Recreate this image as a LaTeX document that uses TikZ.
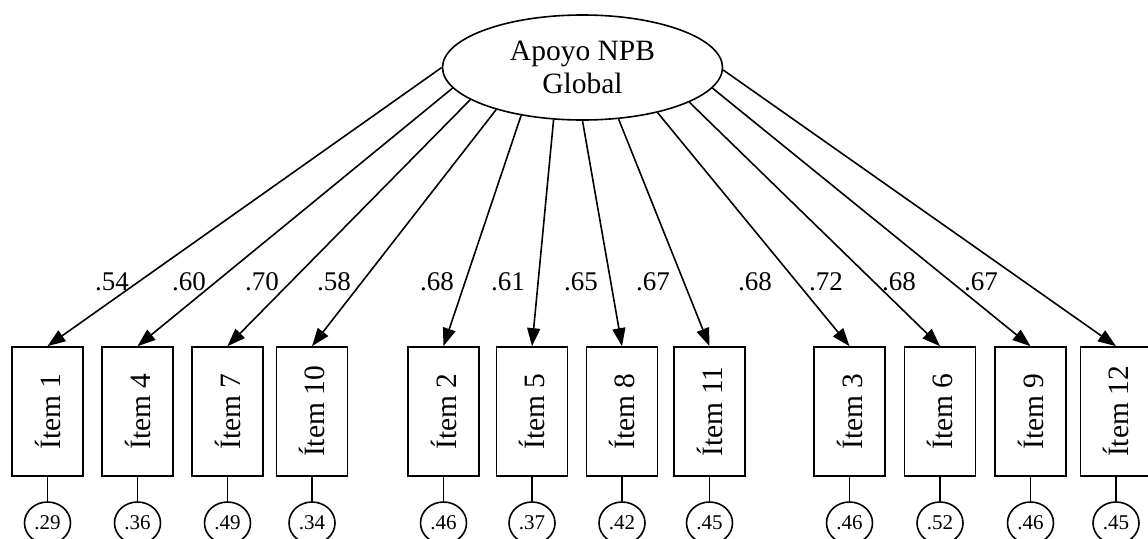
\documentclass[tikz,border=0pt]{standalone}
\usepackage{fontspec}
\setmainfont{Liberation Serif}
\usetikzlibrary{arrows.meta,shapes.geometric}

\begin{document}
\begin{tikzpicture}[x=1pt,y=-1pt,
  latent/.style={ellipse,draw,line width=1.6pt,minimum width=280pt,minimum height=105pt,
    inner sep=0pt,align=center,font=\fontsize{29.5}{33}\selectfont},
  item/.style={draw,line width=1.7pt,minimum width=71pt,minimum height=129pt,inner sep=0pt,
    font=\fontsize{29.5}{33}\selectfont},
  err/.style={ellipse,draw,line width=1.6pt,minimum width=46pt,minimum height=42pt,inner sep=0pt,
    font=\fontsize{21}{24}\selectfont},
  load/.style={inner sep=0pt,font=\fontsize{27}{30}\selectfont},
  loading/.style={line width=1.6pt,-{Triangle[length=18pt,width=13pt]}},
  errline/.style={line width=1.6pt}]
\useasboundingbox (0,0) rectangle (1148,538);
\clip (0,0) rectangle (1148,538);

% latent factor
\node[latent] (lat) at (582.5,67.5) {Apoyo NPB\\Global};

% indicators: name / x / start angle on the factor / label x / loading / error variance
\foreach \n/\x/\a/\lx/\ld/\er in {
   1/47.5/180/112/.54/.29,
   4/137.5/189/189/.60/.36,
   7/227.5/196/262/.70/.49,
  10/312/206/334/.58/.34,
   2/443.5/218/437/.68/.46,
   5/532/241/508/.61/.37,
   8/622/270/581/.65/.42,
  11/709.5/305.5/653/.67/.45,
   3/849.5/329/755/.68/.46,
   6/940/342/826/.72/.52,
   9/1030.5/351/899/.68/.46,
  12/1116/359/981/.67/.45}{
  \node[item] (i\n) at (\x,411.5) {\rotatebox{90}{Ítem \n}};
  \node[err] (e\n) at (\x,523) {\er};
  \node[load] (l\n) at (\lx,282) {\ld};
  \draw[loading] (lat.\a) -- (i\n.north);
  \draw[errline] (i\n.south) -- (e\n.north);
}
\end{tikzpicture}
\end{document}
